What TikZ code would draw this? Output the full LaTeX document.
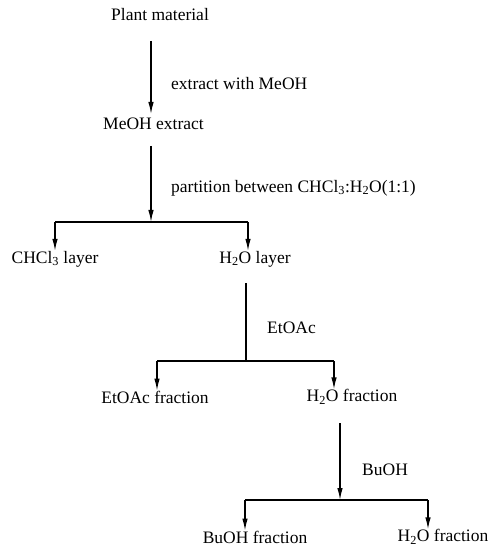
\documentclass[tikz,border=0pt]{standalone}
\usepackage{fontspec}
\setmainfont{Liberation Serif}
\usetikzlibrary{arrows.meta}
\begin{document}
\begin{tikzpicture}[x=1bp,y=1bp,
  lbl/.style={inner sep=0pt, font=\fontsize{17.5bp}{20bp}\selectfont},
  arr/.style={line width=1.3bp, -{Latex[length=12bp,width=5.5bp]}},
  ln/.style={line width=1.3bp}]
\useasboundingbox (0,0) rectangle (498,-546);
% nodes
\node[lbl] (pm) at (160,-15) {Plant material};
\node[lbl] (me) at (153.5,-124) {MeOH extract};
\node[lbl] (ch) at (55,-259) {CHCl\textsubscript{3} layer};
\node[lbl] (hl) at (255,-259) {H\textsubscript{2}O layer};
\node[lbl] (ef) at (155,-397) {EtOAc fraction};
\node[lbl] (hf) at (352,-397) {H\textsubscript{2}O fraction};
\node[lbl] (bf) at (255,-537) {BuOH fraction};
\node[lbl] (hf2) at (443,-537) {H\textsubscript{2}O fraction};
% step labels
\node[lbl, anchor=west] (s1) at (171,-84) {extract with MeOH};
\node[lbl, anchor=west] (s2) at (171,-188) {partition between CHCl\textsubscript{3}:H\textsubscript{2}O(1:1)};
\node[lbl, anchor=west] (s3) at (267,-328) {EtOAc};
\node[lbl, anchor=west] (s4) at (362,-470) {BuOH};
% coordinates
\coordinate (a1s) at (151,-41);
\coordinate (a1e) at (151,-114);
\coordinate (a2s) at (151,-146);
\coordinate (b1) at (151,-222);
\coordinate (b1l) at (55,-222);
\coordinate (b1r) at (248,-222);
\coordinate (a3s) at (246,-283);
\coordinate (b2) at (246,-361);
\coordinate (b2l) at (157,-361);
\coordinate (b2r) at (334,-361);
\coordinate (a4s) at (340,-423);
\coordinate (b3) at (340,-500);
\coordinate (b3l) at (245,-500);
\coordinate (b3r) at (428,-500);
% connectors
\draw[arr] (a1s) -- (a1e);
\draw[arr] (a2s) -- (b1);
\draw[ln] (b1l) -- (b1r);
\draw[arr] (b1l) -- (ch.north -| b1l);
\draw[arr] (b1r) -- (hl.north -| b1r);
\draw[ln] (a3s) -- (b2);
\draw[ln] (b2l) -- (b2r);
\draw[arr] (b2l) -- (ef.north -| b2l);
\draw[arr] (b2r) -- (hf.north -| b2r);
\draw[arr] (a4s) -- (b3);
\draw[ln] (b3l) -- (b3r);
\draw[arr] (b3l) -- (bf.north -| b3l);
\draw[arr] (b3r) -- (hf2.north -| b3r);
\end{tikzpicture}
\end{document}
